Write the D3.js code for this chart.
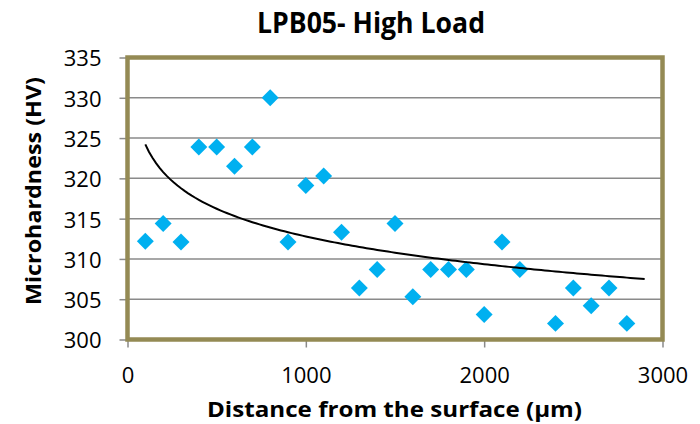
<html>
<head>
<meta charset="utf-8">
<title>LPB05- High Load</title>
<script src="https://d3js.org/d3.v7.min.js"></script>
<style>
  body { margin: 0; background: #fff; }
  text { font-family: "Open Sans", "DejaVu Sans", sans-serif; fill: #000; }
</style>
</head>
<body>
<svg id="chart" width="700" height="424"></svg>
<script>
// values
var distance = [100, 200, 300, 400, 500, 600, 700, 800, 900, 1000, 1100, 1200, 1300, 1400,
  1500, 1600, 1700, 1800, 1900, 2000, 2100, 2200, 2400, 2500, 2600, 2700, 2800];
var hardness = [312.2, 314.4, 312.1, 323.9, 323.9, 321.5, 323.9, 330, 312.1, 319.1, 320.3, 313.3, 306.4, 308.7,
  314.4, 305.3, 308.7, 308.7, 308.7, 303.1, 312.1, 308.7, 302.0, 306.4, 304.2, 306.4, 302.0];
var xTicks = [0, 1000, 2000, 3000];
var yTicks = [300, 305, 310, 315, 320, 325, 330, 335];
var trendRange = [100, 2900];

var svg = d3.select("#chart");
var plotL = 127.5, plotR = 662.5, plotT = 57.5, plotB = 339.5;

var x = d3.scaleLinear().domain([0, 3000]).range([plotL, plotR]);
var y = d3.scaleLinear().domain([300, 335]).range([plotB, plotT]);

// gridlines
svg.append("g")
  .selectAll("line")
  .data(yTicks.slice(1, -1))
  .enter()
  .append("line")
    .attr("x1", plotL).attr("x2", plotR)
    .attr("y1", function (d) { return y(d); })
    .attr("y2", function (d) { return y(d); })
    .style("stroke", "#8a8a8a").style("stroke-width", 1.5);

// axes
var yAxis = svg.append("g")
  .attr("transform", "translate(" + plotL + ",0)")
  .call(d3.axisLeft(y).tickValues(yTicks).tickFormat(d3.format("d")).tickSize(8).tickPadding(18));
var xAxis = svg.append("g")
  .attr("transform", "translate(0," + plotB + ")")
  .call(d3.axisBottom(x).tickValues(xTicks).tickFormat(d3.format("d")).tickSize(8).tickPadding(20));

[yAxis, xAxis].forEach(function (g) {
  g.select(".domain").remove();
  g.selectAll("line").style("stroke", "#8a8a8a").style("stroke-width", 1.5);
  g.selectAll("text").style("font-size", "22px").style("font-family", "Open Sans").attr("fill", "#000");
});
yAxis.selectAll("text").attr("dy", "0.38em");

// plot area border
svg.append("rect")
  .attr("x", plotL).attr("y", plotT)
  .attr("width", plotR - plotL).attr("height", plotB - plotT)
  .style("fill", "none").style("stroke", "#948a54").style("stroke-width", 4.5);

// points
var data = distance.map(function (d, i) { return { d: d, h: hardness[i] }; });
svg.append("g")
  .selectAll("path")
  .data(data)
  .enter()
  .append("path")
    .attr("d", d3.symbol().type(d3.symbolSquare).size(144))
    .attr("transform", function (d) { return "translate(" + x(d.d) + "," + y(d.h) + ") rotate(45)"; })
    .style("fill", "#00b0f0");

// logarithmic trendline, least squares fit on ln(x)
var lx = distance.map(Math.log);
var mx = d3.mean(lx), my = d3.mean(hardness);
var sxy = d3.sum(lx, function (v, i) { return (v - mx) * (hardness[i] - my); });
var sxx = d3.sum(lx, function (v) { return (v - mx) * (v - mx); });
var a = sxy / sxx, b = my - a * mx;
var trendX = d3.range(trendRange[0], trendRange[1] + 1, 20);
svg.append("path")
  .datum(trendX)
  .attr("d", d3.line()
    .x(function (d) { return x(d); })
    .y(function (d) { return y(a * Math.log(d) + b); }))
  .style("fill", "none").style("stroke", "#000").style("stroke-width", 2);

// titles
svg.append("text")
  .attr("x", 371).attr("y", 33)
  .attr("text-anchor", "middle")
  .attr("textLength", 228).attr("lengthAdjust", "spacingAndGlyphs")
  .style("font-size", "28px").style("font-weight", "bold")
  .text("LPB05- High Load");

svg.append("text")
  .attr("x", 394.5).attr("y", 417)
  .attr("text-anchor", "middle")
  .attr("textLength", 375).attr("lengthAdjust", "spacingAndGlyphs")
  .style("font-size", "22px").style("font-weight", "bold")
  .text("Distance from the surface (µm)");

svg.append("text")
  .attr("transform", "translate(41,191) rotate(-90)")
  .attr("text-anchor", "middle")
  .attr("textLength", 228).attr("lengthAdjust", "spacingAndGlyphs")
  .style("font-size", "22px").style("font-weight", "bold")
  .text("Microhardness (HV)");
</script>
</body>
</html>
